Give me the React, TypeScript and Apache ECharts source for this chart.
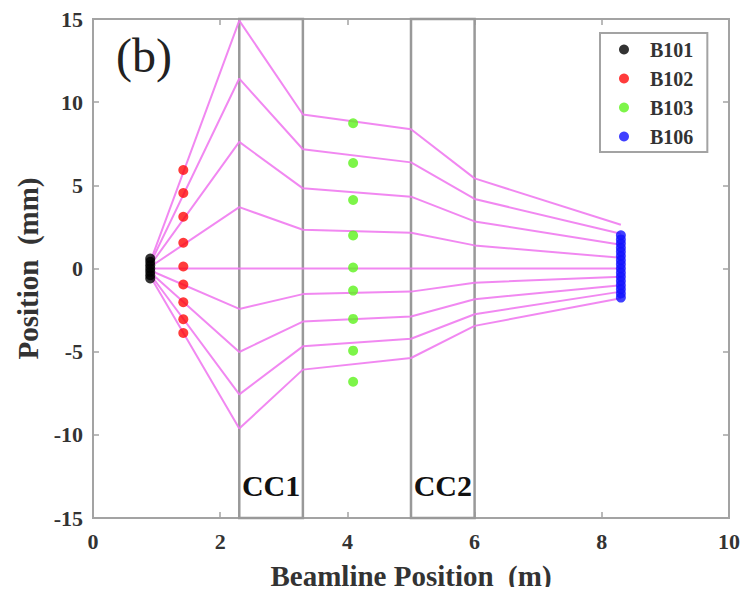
import React, { useEffect, useRef } from "react";
import * as echarts from "echarts";

// Beam-position measurements at each BPM station (x in m, y in mm)
const b101X = 0.9;
const b101Y = [0.6, 0.4, 0.2, 0, -0.2, -0.4, -0.6];

const b102X = 1.42;
const b102Y = [5.92, 4.54, 3.11, 1.55, 0.12, -0.96, -2.03, -3.05, -3.88];

const b103X = 4.09;
const b103Y = [8.73, 6.34, 4.12, 1.99, 0.06, -1.33, -3.03, -4.94, -6.81];

const b106X = 8.3;
const b106Y = [2.0, 1.75, 1.5, 1.25, 1.0, 0.75, 0.5, 0.25, 0, -0.25, -0.5, -0.75, -1.0, -1.25, -1.5, -1.75];

// Stations along the beamline where each ray trajectory is evaluated
const rayX = [0.92, 2.3, 3.3, 5, 6, 8.3];
const ray1 = [0.6, 14.9, 9.26, 8.37, 5.42, 2.63];
const ray2 = [0.45, 11.42, 7.17, 6.38, 4.18, 2.09];
const ray3 = [0.3, 7.61, 4.82, 4.32, 2.83, 1.43];
const ray4 = [0.15, 3.69, 2.33, 2.15, 1.39, 0.64];
const ray5 = [0, 0, 0, 0, 0, 0];
const ray6 = [-0.15, -2.43, -1.54, -1.39, -0.85, -0.5];
const ray7 = [-0.3, -5.02, -3.19, -2.89, -1.85, -1.0];
const ray8 = [-0.45, -7.57, -4.68, -4.22, -2.75, -1.39];
const ray9 = [-0.6, -9.62, -6.08, -5.38, -3.45, -1.79];
const rays = [ray1, ray2, ray3, ray4, ray5, ray6, ray7, ray8, ray9];

// Collimator apertures (x extent in m)
const collimators = [
  { name: "CC1", from: 2.3, to: 3.3 },
  { name: "CC2", from: 5, to: 6 },
];

const FONT = "'Liberation Serif', 'Times New Roman', serif";
const AXIS_GRAY = "#a3a3a3";

export default function App() {
  const ref = useRef<HTMLDivElement>(null);

  useEffect(() => {
    if (!ref.current) return;
    const chart = echarts.init(ref.current, undefined, { renderer: "svg" });

    const tickLabel = {
      fontFamily: FONT,
      fontWeight: "bold" as const,
      fontSize: 22,
      color: "#333",
    };
    const axisLine = { show: true, onZero: false, lineStyle: { color: AXIS_GRAY, width: 2 } };
    const axisTick = { show: true, inside: true, length: 6, lineStyle: { color: AXIS_GRAY, width: 1.5 } };
    const nameStyle = { fontFamily: FONT, fontWeight: "bold" as const, fontSize: 29, color: "#333" };

    const scatter = (name: string, x: number, ys: number[], color: string) => ({
      name,
      type: "scatter",
      symbol: "circle",
      symbolSize: 10,
      z: 5,
      itemStyle: { color },
      data: ys.map((y) => [x, y]),
    });

    chart.setOption({
      animation: false,
      grid: {
        left: 93,
        right: 20,
        top: 19,
        bottom: 74,
        show: true,
        borderColor: AXIS_GRAY,
        borderWidth: 2,
        backgroundColor: "#fff",
      },
      xAxis: [
        {
          type: "value",
          min: 0,
          max: 10,
          interval: 2,
          name: "Beamline Position  (m)",
          nameLocation: "middle",
          nameGap: 43,
          nameTextStyle: nameStyle,
          axisLine,
          axisTick,
          axisLabel: { ...tickLabel, margin: 12 },
          splitLine: { show: false },
        },
        {
          type: "value",
          position: "top",
          min: 0,
          max: 10,
          interval: 2,
          axisLine,
          axisTick,
          axisLabel: { show: false },
          splitLine: { show: false },
        },
      ],
      yAxis: [
        {
          type: "value",
          min: -15,
          max: 15,
          interval: 5,
          name: "Position  (mm)",
          nameLocation: "middle",
          nameGap: 51,
          nameTextStyle: nameStyle,
          axisLine,
          axisTick,
          axisLabel: { ...tickLabel, margin: 10 },
          splitLine: { show: false },
        },
        {
          type: "value",
          position: "right",
          min: -15,
          max: 15,
          interval: 5,
          axisLine,
          axisTick,
          axisLabel: { show: false },
          splitLine: { show: false },
        },
      ],
      legend: {
        data: ["B101", "B102", "B103", "B106"],
        orient: "vertical",
        left: 600,
        top: 33,
        icon: "circle",
        itemWidth: 10,
        itemHeight: 10,
        itemGap: 8,
        padding: [6, 14, 5, 19],
        borderColor: AXIS_GRAY,
        borderWidth: 2,
        backgroundColor: "#fff",
        textStyle: {
          fontFamily: FONT,
          fontWeight: "bold",
          fontSize: 20,
          lineHeight: 21,
          color: "#333",
          padding: [0, 0, 0, 16],
        },
      },
      graphic: [
        {
          type: "text",
          left: 116,
          top: 31,
          style: { text: "(b)", fontFamily: FONT, fontSize: 48, fill: "#222" },
        },
      ],
      series: [
        {
          name: "collimators",
          type: "line",
          data: [],
          z: 1,
          markArea: {
            silent: true,
            itemStyle: { color: "rgba(0,0,0,0)", borderColor: "#999", borderWidth: 2.5 },
            label: {
              show: true,
              position: "insideBottom",
              distance: 19,
              fontFamily: FONT,
              fontWeight: "bold",
              fontSize: 30,
              color: "#111",
            },
            data: collimators.map((c) => [
              { name: c.name, xAxis: c.from, yAxis: -15 },
              { xAxis: c.to, yAxis: 15 },
            ]),
          },
        },
        ...rays.map((ys, i) => ({
          name: `ray${i + 1}`,
          type: "line",
          z: 3,
          symbol: "none",
          lineStyle: { color: "#ef7bef", width: 2, opacity: 0.9 },
          data: ys.map((y, k) => [rayX[k], y]),
        })),
        scatter("B101", b101X, b101Y, "#000"),
        scatter("B102", b102X, b102Y, "#ff0a0a"),
        scatter("B103", b103X, b103Y, "#5cf21c"),
        scatter("B106", b106X, b106Y, "#1010ff"),
      ],
    });

    return () => chart.dispose();
  }, []);

  return <div ref={ref} style={{ width: 749, height: 595, margin: -8 }} />;
}
